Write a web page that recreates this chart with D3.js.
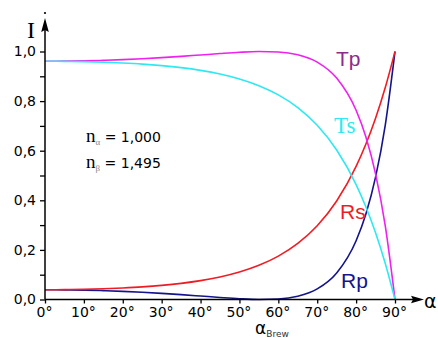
<!DOCTYPE html>
<html>
<head>
<meta charset="utf-8">
<script src="https://cdn.jsdelivr.net/npm/d3@7"></script>
<style>
  body { margin: 0; background: #fff; }
  svg { display: block; }
</style>
</head>
<body>
<script>
// angles of incidence (deg) and intensities
const angles = [0, 5, 10, 15, 20, 25, 30, 35, 40, 45, 50, 55, 60, 65, 70, 75, 80, 82.5, 85, 87.5, 90];
const Rs = [0.0394, 0.0398, 0.0410, 0.0431, 0.0464, 0.0508, 0.0569, 0.0651, 0.0761, 0.0908, 0.1107, 0.1377, 0.1748, 0.2261, 0.2975, 0.3972, 0.5366, 0.6258, 0.7310, 0.8547, 1.0];
const Rp = [0.0394, 0.0390, 0.0378, 0.0357, 0.0329, 0.0292, 0.0248, 0.0197, 0.0140, 0.0083, 0.0032, 0.0002, 0.0019, 0.0131, 0.0427, 0.1070, 0.2371, 0.3439, 0.4935, 0.7036, 1.0];
const Ts = [0.9606, 0.9602, 0.9590, 0.9569, 0.9536, 0.9492, 0.9431, 0.9349, 0.9239, 0.9092, 0.8893, 0.8623, 0.8252, 0.7739, 0.7025, 0.6028, 0.4634, 0.3742, 0.2690, 0.1453, 0];
const Tp = [0.9606, 0.9610, 0.9622, 0.9643, 0.9671, 0.9708, 0.9752, 0.9803, 0.9860, 0.9917, 0.9968, 0.9998, 0.9981, 0.9869, 0.9573, 0.8930, 0.7629, 0.6561, 0.5065, 0.2964, 0];

const xTicks = [0, 10, 20, 30, 40, 50, 60, 70, 80, 90];
const yTicks = [0, 0.1, 0.2, 0.3, 0.4, 0.5, 0.6, 0.7, 0.8, 0.9, 1.0];
const yLabels = [0, 0.2, 0.4, 0.6, 0.8, 1.0];

const width = 438, height = 338;
const svg = d3.select("body").append("svg")
  .attr("width", width)
  .attr("height", height);

const x = d3.scaleLinear().domain([0, 90]).range([45, 395]);
const y = d3.scaleLinear().domain([0, 1]).range([299.5, 51.5]);

const sans = "'DejaVu Sans', sans-serif";
const serif = "'Liberation Serif', 'Times New Roman', serif";

// curves: blue under red, magenta under cyan
const series = [
  { vals: Rp, color: "#14148c" },
  { vals: Rs, color: "#f01c24" },
  { vals: Tp, color: "#ee22ee" },
  { vals: Ts, color: "#30e8f0" }
];
const line = d3.line()
  .x(d => x(d[0]))
  .y(d => y(d[1]))
  .curve(d3.curveMonotoneX);

svg.selectAll(".curve")
  .data(series)
  .enter().append("path")
  .attr("class", "curve")
  .attr("fill", "none")
  .attr("stroke", d => d.color)
  .attr("stroke-width", 1.6)
  .attr("d", d => line(angles.map((a, i) => [a, d.vals[i]])));

// x axis
const xAxis = svg.append("g")
  .attr("transform", "translate(0," + y(0) + ")")
  .call(d3.axisBottom(x).tickValues(xTicks).tickSize(4).tickPadding(4)
    .tickFormat(d => d + "°"));
xAxis.select(".domain").remove();
xAxis.selectAll("line").attr("stroke", "#000").attr("stroke-width", 1.3);
xAxis.selectAll("text").attr("font-family", sans).attr("font-size", 14)
  .attr("fill", "#000").attr("dx", -1);

// y axis
const yAxis = svg.append("g")
  .attr("transform", "translate(" + x(0) + ",0)")
  .call(d3.axisLeft(y).tickValues(yTicks).tickSize(5).tickPadding(4)
    .tickFormat(d => yLabels.some(v => Math.abs(v - d) < 1e-9) ? d.toFixed(1).replace(".", ",") : ""));
yAxis.select(".domain").remove();
yAxis.selectAll("line").attr("stroke", "#000").attr("stroke-width", 1.3);
yAxis.selectAll("text").attr("font-family", sans).attr("font-size", 14).attr("fill", "#000");

// axis lines with arrows
svg.append("line")
  .attr("x1", x(0)).attr("y1", y(0))
  .attr("x2", 414).attr("y2", y(0))
  .attr("stroke", "#000").attr("stroke-width", 1.5);
svg.append("path")
  .attr("d", "M424," + y(0) + "L411," + (y(0) - 3.8) + "L413," + y(0) + "L411," + (y(0) + 3.8) + "Z")
  .attr("fill", "#000");
svg.append("line")
  .attr("x1", x(0)).attr("y1", y(0))
  .attr("x2", x(0)).attr("y2", 30)
  .attr("stroke", "#000").attr("stroke-width", 1.5);
svg.append("path")
  .attr("d", "M" + x(0) + ",18L" + (x(0) - 3.8) + ",32L" + x(0) + ",30L" + (x(0) + 3.8) + ",32Z")
  .attr("fill", "#000");
svg.append("circle")
  .attr("cx", x(0)).attr("cy", 13).attr("r", 1.1).attr("fill", "#000");

// axis titles
svg.append("text").attr("x", 31).attr("y", 38)
  .attr("text-anchor", "middle")
  .attr("font-family", serif).attr("font-size", 24).text("I");
svg.append("text").attr("x", 424).attr("y", 308)
  .attr("font-family", sans).attr("font-size", 19).text("α");

const brew = svg.append("text").attr("x", 255).attr("y", 334)
  .attr("font-family", sans).attr("font-size", 17);
brew.append("tspan").text("α");
brew.append("tspan").attr("font-size", 9).attr("dy", 3).attr("fill", "#333").text("Brew");

// refractive indices
const nA = svg.append("text").attr("x", 86).attr("y", 142)
  .attr("font-size", 14);
nA.append("tspan").attr("font-family", serif).attr("font-size", 19).text("n");
nA.append("tspan").attr("font-family", serif).attr("font-size", 9).attr("dy", 3).attr("fill", "#888").text("α");
nA.append("tspan").attr("font-family", sans).attr("dy", -3).text(" = 1,000");

const nB = svg.append("text").attr("x", 86).attr("y", 168)
  .attr("font-size", 14);
nB.append("tspan").attr("font-family", serif).attr("font-size", 19).text("n");
nB.append("tspan").attr("font-family", serif).attr("font-size", 9).attr("dy", 3).attr("fill", "#888").text("β");
nB.append("tspan").attr("font-family", sans).attr("dy", -3).text(" = 1,495");

// curve labels
const labels = [
  { text: "Tp", x: 336, y: 66, color: "#8b2d8b", font: "'Liberation Sans', Arial, sans-serif", size: 21 },
  { text: "Ts", x: 334, y: 133, color: "#30e8f0", font: serif, size: 23 },
  { text: "Rs", x: 340, y: 219, color: "#f01c24", font: "'Liberation Sans', Arial, sans-serif", size: 21 },
  { text: "Rp", x: 341, y: 288, color: "#14148c", font: "'Liberation Sans', Arial, sans-serif", size: 21 }
];
svg.selectAll(".clabel")
  .data(labels)
  .enter().append("text")
  .attr("class", "clabel")
  .attr("x", d => d.x).attr("y", d => d.y)
  .attr("fill", d => d.color)
  .attr("font-family", d => d.font)
  .attr("font-size", d => d.size)
  .text(d => d.text);
</script>
</body>
</html>
